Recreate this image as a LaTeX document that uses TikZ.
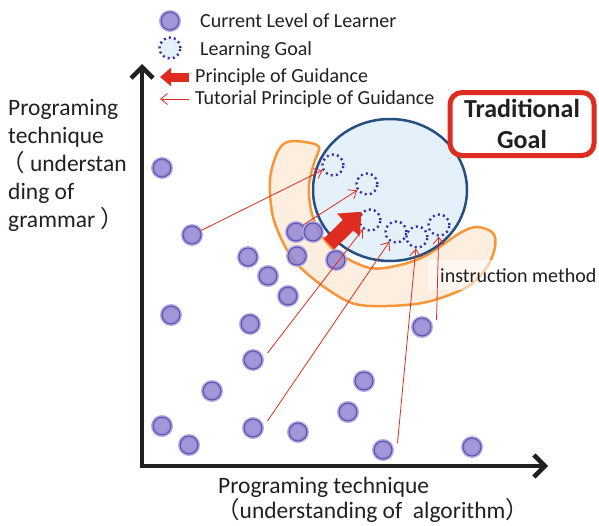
\documentclass[tikz,border=0pt]{standalone}
\usepackage{fontspec}
\setmainfont{Carlito}
\newfontfamily\cjk{Noto Sans CJK JP}
\usepackage{tikz}
\usetikzlibrary{arrows.meta,calc,shapes.geometric}
\definecolor{guideRed}{RGB}{222,45,32}
\definecolor{bandLine}{RGB}{247,150,56}
\definecolor{bandFill}{RGB}{253,238,224}
\definecolor{zoneFill}{RGB}{228,241,251}
\definecolor{zoneLine}{RGB}{38,78,128}
\definecolor{dotFill}{RGB}{146,134,210}
\definecolor{dotEdge}{RGB}{92,80,172}
\definecolor{dotHalo}{RGB}{180,170,228}
\definecolor{aimDots}{RGB}{58,48,165}
\definecolor{ink}{RGB}{35,31,32}

\begin{document}
\begin{tikzpicture}[
      x=1pt, y=-1pt,
      learner/.style={circle, inner sep=0pt, minimum size=18pt, draw=dotEdge, line width=1pt,
        fill=dotFill, fill opacity=0.85, preaction={draw=dotHalo, line width=4pt}},
      aim/.style={circle, inner sep=0pt, minimum size=21pt, draw=aimDots, line width=2.4pt,
        dash pattern=on 2pt off 3.2pt, fill=zoneFill},
      zone/.style={ellipse, inner sep=0pt, minimum width=154pt, minimum height=142pt,
        draw=zoneLine, line width=2.5pt, fill=zoneFill},
      band/.style={draw=bandLine, line width=2.5pt, fill=bandFill},
      tutor/.style={guideRed, line width=0.8pt, -{Straight Barb[length=7pt,width=11pt]}},
      guide/.style={guideRed, line width=15pt, -{Triangle[length=19pt,width=31pt]}},
      guideKey/.style={guideRed, line width=9pt, -{Triangle[length=11pt,width=18pt]}},
      axis/.style={ink, line width=4.5pt, arrows={Straight Barb[length=11pt,width=22pt]-Straight Barb[length=11pt,width=22pt]}},
      legend/.style={anchor=base west, inner sep=0pt, text=ink, font=\fontsize{20}{24}\selectfont},
      label/.style={anchor=base west, inner sep=0pt, text=ink, align=left}
    ]
    \useasboundingbox (0,0) rectangle (599,525);

    % -------- instruction band --------
    \draw[band] plot[smooth cycle, tension=0.55] coordinates {
      (287,142) (305,142) (319,147) (314,163) (309,185) (311,210) (320,233) (338,253)
      (370,268) (400,265) (427,255) (460,233) (477,227) (493,233) (495,247) (487,267)
      (467,287) (427,302) (387,306) (355,304) (330,291) (303,270) (287,250) (273,217)
      (270,180) (277,153)};

    % -------- learners --------
    \foreach \px/\py [count=\i] in {162/168, 192/235, 296/232, 313/232, 297/256, 336/260,
        248/257, 268/276, 288/296, 171/315, 250/324, 253/360, 212/391, 162/426, 189/445,
        253/428, 298/432, 364/381, 348/412, 383/450, 422/327, 472/447}
      \node[learner] (l\i) at (\px,\py) {};

    % -------- goal zone and learning goals --------
    \node[zone] (zone) at (390,190) {};
    \foreach \px/\py [count=\i] in {333/165, 367/184, 370/220, 396/232, 417/237, 439/225}
      \node[aim] (g\i) at (\px,\py) {};

    \node[label, fill=white, fill opacity=0.55, text opacity=1, inner xsep=12pt, inner ysep=8pt,
          font=\fontsize{20}{24}\selectfont] (method) at (428,282) {instruction method};

    % principle of guidance
    \coordinate (push) at (329,244);
    \draw[guide] (push) -- (g3.north west);

    % tutorial principle of guidance
    \draw[tutor] (l2) -- (g1);
    \draw[tutor] (l3.north east) -- (g2);
    \draw[tutor] ([shift={(5,-7)}]l12.east) -- (g3);
    \draw[tutor] ([shift={(5,-7)}]l16.east) -- (g4);
    \draw[tutor] ([shift={(5,-7)}]l20.east) -- (g5);
    \draw[tutor] ([shift={(5,-7)}]l21.east) -- (g6);

    % -------- legend --------
    \node[learner] (keyL) at (170,21) {};
    \node[legend] (keyLt) at (200,27) {Current Level of Learner};
    \node[aim] (keyG) at (170,48) {};
    \node[legend] (keyGt) at (200,55) {Learning Goal};
    \coordinate (keyP0) at (189,77);
    \coordinate (keyP1) at (160,77);
    \draw[guideKey] (keyP0) -- (keyP1);
    \node[legend] (keyPt) at (195,82) {Principle of Guidance};
    \coordinate (keyT0) at (189,99);
    \coordinate (keyT1) at (160,99);
    \draw[tutor] (keyT0) -- (keyT1);
    \node[legend] (keyTt) at (195,104) {Tutorial Principle of Guidance};

    % -------- traditional goal --------
    \node[draw=guideRed, line width=5pt, rounded corners=12pt, minimum width=144pt, minimum height=63pt,
          align=center, text=ink, font=\bfseries\fontsize{26}{31}\selectfont] (trad) at (522,124)
      {Traditional\\Goal};

    % -------- axes --------
    \coordinate (O) at (142,466);
    \coordinate (ytop) at (142,64);
    \coordinate (xend) at (548,466);
    \draw[axis] (ytop) -- (O) -- (xend);

    % base anchor sits on the last line
    \node[label, font=\fontsize{23.5}{28}\selectfont] (ylab) at (8,227)
      {Programing\\technique\\\kern-7pt{\cjk （} understan\\ding of\\grammar {\cjk ）}};
    \node[label, font=\fontsize{23.5}{25}\selectfont] (xlab) at (218,518)
      {Programing technique\\\kern-2pt{\cjk （}understanding of~ algorithm{\cjk ）}};
\end{tikzpicture}
\end{document}
